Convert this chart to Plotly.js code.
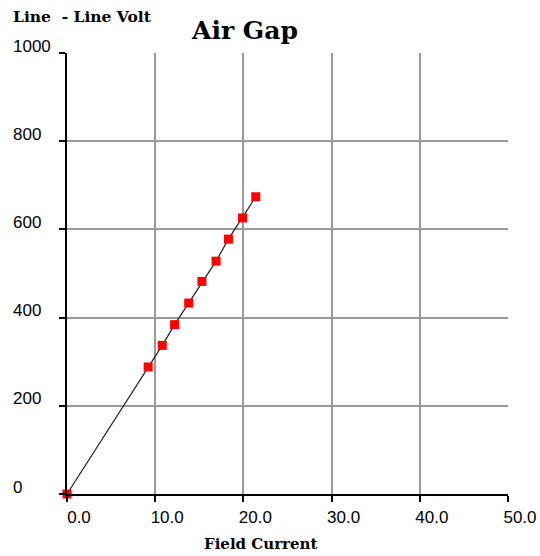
<!DOCTYPE html>
<html>
<head>
<meta charset="utf-8">
<script src="https://cdn.plot.ly/plotly-3.0.1.min.js"></script>
<style>html,body{margin:0;padding:0;background:#fff;}#chart{width:540px;height:556px;}</style>
</head>
<body>
<div id="chart"></div>
<script>
var fieldCurrent = [0, 9.2, 10.8, 12.2, 13.8, 15.3, 16.9, 18.3, 19.9, 21.4];
var lineVolt = [0, 288, 337, 384, 433, 482, 528, 578, 626, 674];
var xTickVals = [0, 10, 20, 30, 40, 50];
var xTickText = ['0.0', '10.0', '20.0', '30.0', '40.0', '50.0'];
var yTickVals = [0, 200, 400, 600, 800, 1000];
var yTickText = ['0', '200', '400', '600', '800', '1000'];
var chartTitle = 'Air Gap';
var xTitle = 'Field Current';
var yTitle = 'Line\u00a0\u00a0- Line Volt';

var serif = 'DejaVu Serif, Liberation Serif, serif';
var sans = 'Liberation Sans, Arial, sans-serif';

var trace = {
  x: fieldCurrent, y: lineVolt, type: 'scatter', mode: 'lines+markers',
  line: {color: '#222', width: 1.2},
  marker: {symbol: 'square', color: '#ff0000', size: 9},
  cliponaxis: false, showlegend: false, hoverinfo: 'none'
};

var annotations = yTickVals.map(function(v, i) {
  return {xref: 'paper', yref: 'y', x: -56/441, y: v, xanchor: 'left', yanchor: 'middle',
    yshift: 7, text: yTickText[i], showarrow: false, font: {family: sans, size: 17, color: '#000'}};
});
annotations.push({xref: 'paper', yref: 'paper', x: -56/441, y: 1 + 36/441, xanchor: 'left', yanchor: 'middle',
  text: '<b>' + yTitle + '</b>', showarrow: false, font: {family: serif, size: 15.5, color: '#000'}});
annotations.push({xref: 'paper', yref: 'paper', x: (260 - 67) / 441, y: -50/441, xanchor: 'center', yanchor: 'middle',
  text: '<b>' + xTitle + '</b>', showarrow: false, font: {family: serif, size: 15, color: '#000'}});

var layout = {
  width: 540, height: 556,
  margin: {l: 67, r: 32, t: 53, b: 62},
  paper_bgcolor: '#fff', plot_bgcolor: '#fff',
  title: {text: '<b>' + chartTitle + '</b>', font: {family: serif, size: 25, color: '#000'},
    xref: 'container', x: 245/540, xanchor: 'center', yref: 'container', y: 1 - 30/556, yanchor: 'middle'},
  xaxis: {range: [0, 50], tickvals: xTickVals, ticktext: xTickText, showgrid: true,
    gridcolor: '#9a9a9a', gridwidth: 2, showline: true, linecolor: '#000', linewidth: 2,
    ticks: 'outside', ticklen: 6, tickwidth: 2, tickcolor: '#000', zeroline: false,
    ticklabelshift: 12, ticklabelstandoff: 1, tickfont: {family: sans, size: 17, color: '#000'}, automargin: false},
  yaxis: {range: [0, 1000], tickvals: yTickVals, showticklabels: false, showgrid: true,
    gridcolor: '#9a9a9a', gridwidth: 2, showline: true, linecolor: '#000', linewidth: 2,
    ticks: 'outside', ticklen: 6, tickwidth: 2, tickcolor: '#000', zeroline: false, automargin: false},
  annotations: annotations
};

Plotly.newPlot('chart', [trace], layout, {displayModeBar: false, staticPlot: true});
</script>
</body>
</html>
